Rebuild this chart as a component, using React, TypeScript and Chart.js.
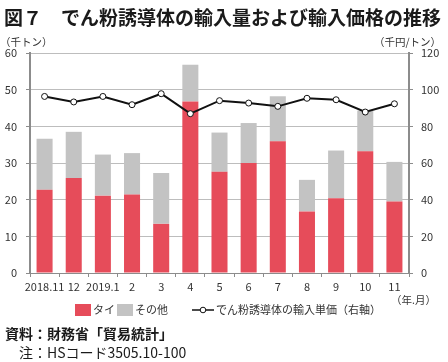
import React, { useEffect, useRef } from 'react';
import { Chart, registerables } from 'chart.js';

Chart.register(...registerables);

const categories = ['2018.11', '12', '2019.1', '2', '3', '4', '5', '6', '7', '8', '9', '10', '11'];
const taiValues = [22.7, 25.9, 21.1, 21.4, 13.4, 46.8, 27.6, 30.0, 35.9, 16.8, 20.4, 33.2, 19.5];
const otherValues = [13.9, 12.6, 11.2, 11.3, 13.9, 10.0, 10.7, 10.9, 12.3, 8.6, 13.0, 11.1, 10.8];
const priceValues = [96.3, 93.3, 96.3, 91.8, 97.8, 86.9, 94.0, 92.7, 90.9, 95.3, 94.5, 87.8, 92.3];
const seriesNames = ['タイ', 'その他', 'でん粉誘導体の輸入単価（右軸）'];

const FONT = '"Noto Sans CJK JP", "Noto Sans", sans-serif';
const RED = '#E64C5A';
const GRAY = '#C3C3C3';
const TEXT = '#333333';

const overlayPlugin = {
  id: 'overlay',
  afterDraw(chart: any) {
    const ctx = chart.ctx as CanvasRenderingContext2D;
    ctx.save();
    ctx.fillStyle = TEXT;
    ctx.textBaseline = 'middle';
    ctx.font = `10.5px ${FONT}`;
    ctx.textAlign = 'left';
    ctx.fillText('（千トン）', 0, 42);
    ctx.textAlign = 'right';
    ctx.fillText('（千円/トン）', 441, 42);
    ctx.fillText('（年.月）', 436, 300);

    // legend
    const ly = 310;
    ctx.textAlign = 'left';
    ctx.font = `11px ${FONT}`;
    ctx.fillStyle = RED;
    ctx.fillRect(75, ly - 6, 16, 12);
    ctx.fillStyle = TEXT;
    ctx.fillText(seriesNames[0], 93, ly);
    ctx.fillStyle = GRAY;
    ctx.fillRect(117, ly - 6, 16, 12);
    ctx.fillStyle = TEXT;
    ctx.fillText(seriesNames[1], 135, ly);
    ctx.strokeStyle = '#111';
    ctx.lineWidth = 1.5;
    ctx.beginPath();
    ctx.moveTo(192, ly);
    ctx.lineTo(214, ly);
    ctx.stroke();
    ctx.beginPath();
    ctx.arc(203, ly, 2.8, 0, Math.PI * 2);
    ctx.fillStyle = '#fff';
    ctx.fill();
    ctx.lineWidth = 1;
    ctx.stroke();
    ctx.fillStyle = TEXT;
    ctx.fillText(seriesNames[2], 216, ly);
    ctx.restore();
  },
};

export default function App() {
  const canvasRef = useRef<HTMLCanvasElement | null>(null);

  useEffect(() => {
    if (!canvasRef.current) return;
    const chart = new Chart(canvasRef.current, {
      type: 'bar',
      data: {
        labels: categories,
        datasets: [
          {
            type: 'line',
            label: seriesNames[2],
            data: priceValues,
            yAxisID: 'y1',
            borderColor: '#111',
            borderWidth: 2,
            pointRadius: 3,
            pointBackgroundColor: '#fff',
            pointBorderColor: '#111',
            pointBorderWidth: 1,
            tension: 0,
            order: 0,
          } as any,
          {
            label: seriesNames[0],
            data: taiValues,
            backgroundColor: RED,
            yAxisID: 'y',
            stack: 's',
            order: 1,
            barPercentage: 0.55,
            categoryPercentage: 1,
          },
          {
            label: seriesNames[1],
            data: otherValues,
            backgroundColor: GRAY,
            yAxisID: 'y',
            stack: 's',
            order: 1,
            barPercentage: 0.55,
            categoryPercentage: 1,
          },
        ],
      },
      options: {
        animation: false,
        responsive: false,
        maintainAspectRatio: false,
        layout: { padding: { top: 53, left: 0, right: 0, bottom: 0 } },
        plugins: {
          legend: { display: false },
          title: { display: false },
          tooltip: { enabled: false },
        },
        scales: {
          x: {
            stacked: true,
            grid: {
              offset: true,
              drawOnChartArea: false,
              drawTicks: true,
              tickLength: 4,
              color: '#8c8c8c',
            },
            border: { display: true, color: '#8c8c8c', width: 1 },
            ticks: {
              color: TEXT,
              font: { family: FONT, size: 11 },
              maxRotation: 0,
              autoSkip: false,
              padding: 3,
            },
            afterFit(scale: any) {
              scale.height = 89;
            },
          },
          y: {
            stacked: true,
            position: 'left',
            min: 0,
            max: 60,
            ticks: {
              stepSize: 10,
              color: TEXT,
              font: { family: FONT, size: 11 },
              padding: 9,
            },
            grid: { color: '#bdbdbd', lineWidth: 1, tickLength: 4, tickColor: '#8c8c8c' },
            border: { display: true, color: '#8c8c8c', width: 2 },
            afterFit(scale: any) {
              scale.width = 30;
            },
          },
          y1: {
            position: 'right',
            min: 0,
            max: 120,
            ticks: {
              stepSize: 20,
              color: TEXT,
              font: { family: FONT, size: 11 },
              padding: 8,
            },
            grid: { drawOnChartArea: false, tickLength: 4, color: '#8c8c8c' },
            border: { display: true, color: '#8c8c8c', width: 2 },
            afterFit(scale: any) {
              scale.width = 39;
            },
          },
        },
      },
      plugins: [overlayPlugin],
    });
    return () => chart.destroy();
  }, []);

  return (
    <div style={{ position: 'fixed', left: 0, top: 0, width: 448, height: 362, background: '#fff', overflow: 'hidden' }}>
      <canvas ref={canvasRef} width={448} height={362} style={{ position: 'absolute', left: 0, top: 0, width: 448, height: 362 }} />
      <div
        style={{
          position: 'absolute',
          left: 4,
          top: 4,
          fontFamily: FONT,
          fontWeight: 700,
          fontSize: 19,
          lineHeight: '26px',
          color: '#1a1a1a',
          whiteSpace: 'nowrap',
        }}
      >
        図７　でん粉誘導体の輸入量および輸入価格の推移
      </div>
      <div
        style={{
          position: 'absolute',
          left: 5,
          top: 323,
          fontFamily: FONT,
          fontWeight: 700,
          fontSize: 14,
          lineHeight: '20px',
          color: '#1a1a1a',
          whiteSpace: 'nowrap',
        }}
      >
        資料：財務省「貿易統計」
      </div>
      <div
        style={{
          position: 'absolute',
          left: 19,
          top: 342,
          fontFamily: FONT,
          fontWeight: 400,
          fontSize: 14,
          lineHeight: '20px',
          color: '#1a1a1a',
          whiteSpace: 'nowrap',
        }}
      >
        注：HSコード3505.10-100
      </div>
    </div>
  );
}
